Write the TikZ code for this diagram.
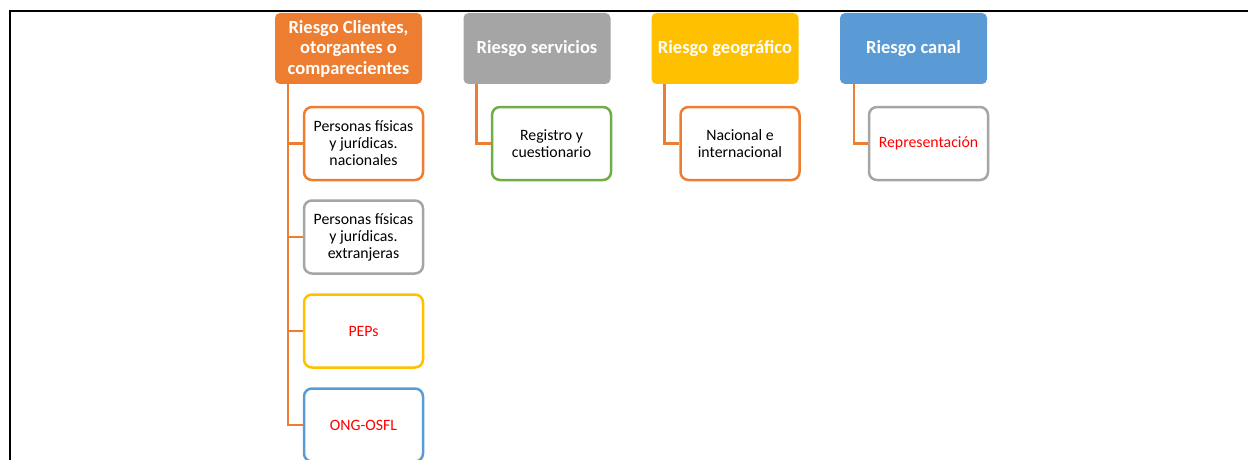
\documentclass[tikz,border=0pt]{standalone}
\usepackage{fontspec}
\setmainfont{Carlito}
\definecolor{corange}{HTML}{ED7D31}
\definecolor{cgray}{HTML}{A5A5A5}
\definecolor{cyellow}{HTML}{FFC000}
\definecolor{cblue}{HTML}{5B9BD5}
\definecolor{cgreen}{HTML}{70AD47}
\definecolor{cred}{HTML}{FF0000}
\begin{document}
\begin{tikzpicture}[x=1pt,y=-1pt,
  header/.style={rectangle, rounded corners=5pt, minimum width=147pt, minimum height=71pt,
    inner sep=0pt, text=white, align=center, font=\bfseries\fontsize{18.5}{20.5}\selectfont},
  child/.style={rectangle, draw, line width=2.5pt, rounded corners=8pt, fill=white,
    minimum width=119pt, minimum height=73pt, inner sep=0pt, align=center,
    font=\fontsize{15.8}{17}\selectfont},
  conn/.style={draw=corange, line width=2.5pt}]
\useasboundingbox (0,0) rectangle (1248,460);
\draw[line width=2pt] (10,461) -- (10,11) -- (1249,11);

\node[header, fill=corange] (h1) at (348.5,48.5) {Riesgo Clientes,\\otorgantes o\\comparecientes};
\node[header, fill=cgray] (h2) at (537,48.5) {Riesgo servicios};
\node[header, fill=cyellow] (h3) at (725,48.5) {Riesgo geográfico};
\node[header, fill=cblue] (h4) at (913.5,48.5) {Riesgo canal};

\coordinate (t1) at ([xshift=13pt]h1.south west);
\coordinate (t2) at ([xshift=13pt]h2.south west);
\coordinate (t3) at ([xshift=13pt]h3.south west);
\coordinate (t4) at ([xshift=14pt]h4.south west);

\node[child, draw=corange] (c1) at (363.5,143.5) {Personas físicas\\y jurídicas.\\nacionales};
\node[child, draw=cgray] (c2) at (363.5,237) {Personas físicas\\y jurídicas.\\extranjeras};
\node[child, draw=cyellow, text=cred] (c3) at (363.5,331) {PEPs};
\node[child, draw=cblue, text=cred] (c4) at (363.5,425) {ONG-OSFL};

\node[child, draw=cgreen] (s1) at (551.5,143.5) {Registro y\\cuestionario};
\node[child, draw=corange] (g1) at (740,143.5) {Nacional e\\internacional};
\node[child, draw=cgray, text=cred] (r1) at (928.5,143.5) {Representación};

\draw[conn] (t1) |- (c4.west);
\draw[conn] (t1) |- (c1.west);
\draw[conn] (t1) |- (c2.west);
\draw[conn] (t1) |- (c3.west);
\draw[conn] (t2) |- (s1.west);
\draw[conn] (t3) |- (g1.west);
\draw[conn] (t4) |- (r1.west);
\end{tikzpicture}
\end{document}
